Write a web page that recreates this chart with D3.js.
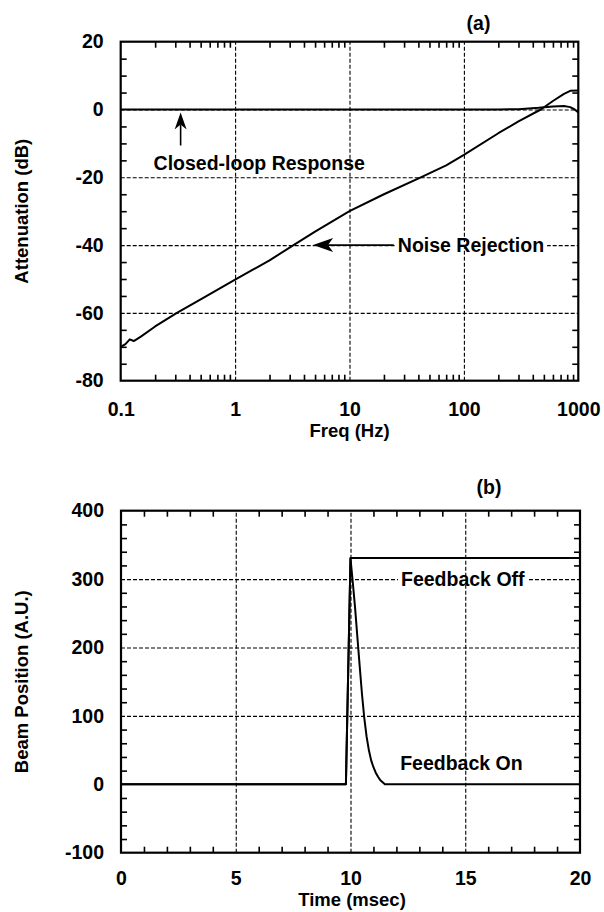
<!DOCTYPE html>
<html>
<head>
<meta charset="utf-8">
<script src="https://cdn.jsdelivr.net/npm/d3@7"></script>
<style>
  body { margin: 0; background: #fff; }
  svg text { font-family: "Liberation Sans", Arial, Helvetica, sans-serif; font-weight: bold; font-size: 19.5px; fill: #000; }
  svg text.title { font-size: 18.5px; }
  .grid line { stroke: #000; stroke-width: 1.1; stroke-dasharray: 4,2; }
  .minor line { stroke: #000; stroke-width: 1.6; }
  .frame { fill: none; stroke: #000; stroke-width: 2.2; }
  .curve { fill: none; stroke: #000; stroke-width: 2; stroke-linejoin: round; }
</style>
</head>
<body>
<svg id="chart" width="604" height="912"></svg>
<script>
'use strict';

// (a) frequency response
const freqTicks = [0.1, 1, 10, 100, 1000];
const attenTicks = [20, 0, -20, -40, -60, -80];
const noiseFreq = [0.1, 0.11, 0.12, 0.13, 0.15, 0.2, 0.31, 0.5, 1, 2, 3.24, 5, 10, 20, 42, 70, 100, 200, 300, 470, 600, 750, 850, 1000];
const noiseDb   = [-70, -69.2, -67.8, -68.3, -67, -64, -60, -56, -50.2, -44.5, -40, -36, -30, -25, -20, -16.5, -13.4, -7, -3.5, 0, 2.5, 4.6, 5.5, 5.6];
const closedFreq = [0.1, 100, 200, 300, 450, 600, 750, 850, 930, 1000];
const closedDb   = [0, 0, 0, 0.1, 0.5, 0.9, 1.0, 0.7, 0, -0.9];

// (b) beam position after a kick
const timeTicks = [0, 5, 10, 15, 20];
const posTicks = [400, 300, 200, 100, 0, -100];
const offTime = [0, 9.8, 10, 20];
const offPos  = [0, 0, 331, 331];
const onTime = [0, 9.8, 10, 10.1, 10.2, 10.3, 10.4, 10.5, 10.6, 10.7, 10.8, 10.9, 11, 11.1, 11.2, 11.3, 11.4, 11.5, 20];
const onPos  = [0, 0, 330, 295, 258, 215, 173, 132, 97, 70, 50, 35, 25, 17, 11, 6, 3, 0, 0];

const svg = d3.select('#chart');

function noDomain(s) { s.select('.domain').remove(); }

// draws grid, inward minor ticks, tick labels and the box
function frame(g, x, y, o) {
  const w = x.range()[1], h = y.range()[1];

  g.append('g').attr('class', 'grid').attr('transform', 'translate(0,' + h + ')')
    .call(d3.axisBottom(x).tickValues(o.xGrid).tickSize(-h).tickFormat(''))
    .call(noDomain);
  g.append('g').attr('class', 'grid')
    .call(d3.axisLeft(y).tickValues(o.yGrid).tickSize(-w).tickFormat(''))
    .call(noDomain);

  g.append('g').attr('class', 'minor').attr('transform', 'translate(0,' + h + ')')
    .call(d3.axisBottom(x).tickValues(o.xMinor).tickSize(-6).tickFormat('')).call(noDomain);
  g.append('g').attr('class', 'minor')
    .call(d3.axisTop(x).tickValues(o.xMinor).tickSize(-6).tickFormat('')).call(noDomain);
  g.append('g').attr('class', 'minor')
    .call(d3.axisLeft(y).tickValues(o.yMinor).tickSize(-6).tickFormat('')).call(noDomain);
  g.append('g').attr('class', 'minor').attr('transform', 'translate(' + w + ',0)')
    .call(d3.axisRight(y).tickValues(o.yMinor).tickSize(-6).tickFormat('')).call(noDomain);

  g.append('g').attr('transform', 'translate(0,' + h + ')')
    .call(d3.axisBottom(x).tickValues(o.xTicks).tickSize(0).tickPadding(o.xPad).tickFormat(d => String(d)))
    .call(noDomain);
  g.append('g')
    .call(d3.axisLeft(y).tickValues(o.yTicks).tickSize(0).tickPadding(17).tickFormat(d => String(d)))
    .call(noDomain);
}

// text sitting on a grid line, with the line cut away behind it
function labelOnLine(g, x0, yLine, text) {
  const t = g.append('text').attr('x', x0).attr('y', yLine + 6.8).text(text);
  const b = t.node().getBBox();
  g.insert('rect', () => t.node())
    .attr('x', b.x - 3).attr('y', yLine - 3).attr('width', b.width + 6).attr('height', 6)
    .attr('fill', '#fff');
}

// ---------- panel (a) ----------
{
  const left = 120.7, top = 41.7, w = 457.6, h = 339;
  const g = svg.append('g').attr('transform', 'translate(' + left + ',' + top + ')');
  const x = d3.scaleLog().domain([0.1, 1000]).range([0, w]);
  const y = d3.scaleLinear().domain([20, -80]).range([0, h]);

  const minors = x.ticks().filter(d => freqTicks.indexOf(d) < 0);
  frame(g, x, y, {
    xGrid: [1, 10, 100], yGrid: [0, -20, -40, -60],
    xMinor: minors, yMinor: d3.range(-75, 20, 5).filter(d => d % 20 !== 0),
    xTicks: freqTicks, yTicks: attenTicks, xPad: 21
  });

  const line = d3.line().x(d => x(d[0])).y(d => y(d[1]));
  g.append('path').attr('class', 'curve').attr('d', line(d3.zip(closedFreq, closedDb)));
  g.append('path').attr('class', 'curve').attr('d', line(d3.zip(noiseFreq, noiseDb)));

  g.append('rect').attr('class', 'frame').attr('width', w).attr('height', h);

  // annotations
  const ax = x(0.334), ay = y(0) + 3;
  g.append('path').attr('d', `M${ax},${ay}L${ax - 6},${ay + 17}L${ax},${ay + 12}L${ax + 6},${ay + 17}Z`);
  g.append('line').attr('x1', ax).attr('x2', ax).attr('y1', ay + 12).attr('y2', ay + 33)
    .attr('stroke', '#000').attr('stroke-width', 1.6);
  g.append('text').attr('x', 153.6 - left).attr('y', 170.5 - top).text('Closed-loop Response');

  const nx = x(4.8), ny = y(-40);
  g.append('line').attr('x1', nx + 14).attr('x2', 397.8 - left - 4).attr('y1', ny).attr('y2', ny)
    .attr('stroke', '#000').attr('stroke-width', 1.6);
  g.append('path').attr('d', `M${nx},${ny}L${nx + 20},${ny - 7}L${nx + 15},${ny}L${nx + 20},${ny + 7}Z`);
  labelOnLine(g, 397.8 - left, ny, 'Noise Rejection');

  svg.append('text').attr('class', 'title').attr('x', left + w / 2).attr('y', 437).attr('text-anchor', 'middle').text('Freq (Hz)');
  svg.append('text').attr('class', 'title').attr('transform', 'translate(28,' + (top + h / 2) + ') rotate(-90)')
    .attr('text-anchor', 'middle').text('Attenuation (dB)');
  svg.append('text').attr('x', 478.5).attr('y', 30).attr('text-anchor', 'middle').text('(a)');
}

// ---------- panel (b) ----------
{
  const left = 121, top = 510.7, w = 459, h = 342;
  const g = svg.append('g').attr('transform', 'translate(' + left + ',' + top + ')');
  const x = d3.scaleLinear().domain([0, 20]).range([0, w]);
  const y = d3.scaleLinear().domain([400, -100]).range([0, h]);

  frame(g, x, y, {
    xGrid: [5, 10, 15], yGrid: [300, 200, 100],
    xMinor: d3.range(1, 20).filter(d => d % 5 !== 0), yMinor: d3.range(-80, 400, 20).filter(d => d % 100 !== 0),
    xTicks: timeTicks, yTicks: posTicks, xPad: 18
  });

  const line = d3.line().x(d => x(d[0])).y(d => y(d[1]));
  g.append('path').attr('class', 'curve').attr('d', line(d3.zip(offTime, offPos)));
  g.append('path').attr('class', 'curve').attr('d', line(d3.zip(onTime, onPos)));

  g.append('rect').attr('class', 'frame').attr('width', w).attr('height', h);

  labelOnLine(g, 401 - left, y(300), 'Feedback Off');
  g.append('text').attr('x', 400.2 - left).attr('y', 770 - top).text('Feedback On');

  svg.append('text').attr('class', 'title').attr('x', left + w / 2 + 1.5).attr('y', 906).attr('text-anchor', 'middle').text('Time (msec)');
  svg.append('text').attr('class', 'title').attr('transform', 'translate(28,' + (top + h / 2) + ') rotate(-90)')
    .attr('text-anchor', 'middle').text('Beam Position (A.U.)');
  svg.append('text').attr('x', 489).attr('y', 494).attr('text-anchor', 'middle').text('(b)');
}
</script>
</body>
</html>
